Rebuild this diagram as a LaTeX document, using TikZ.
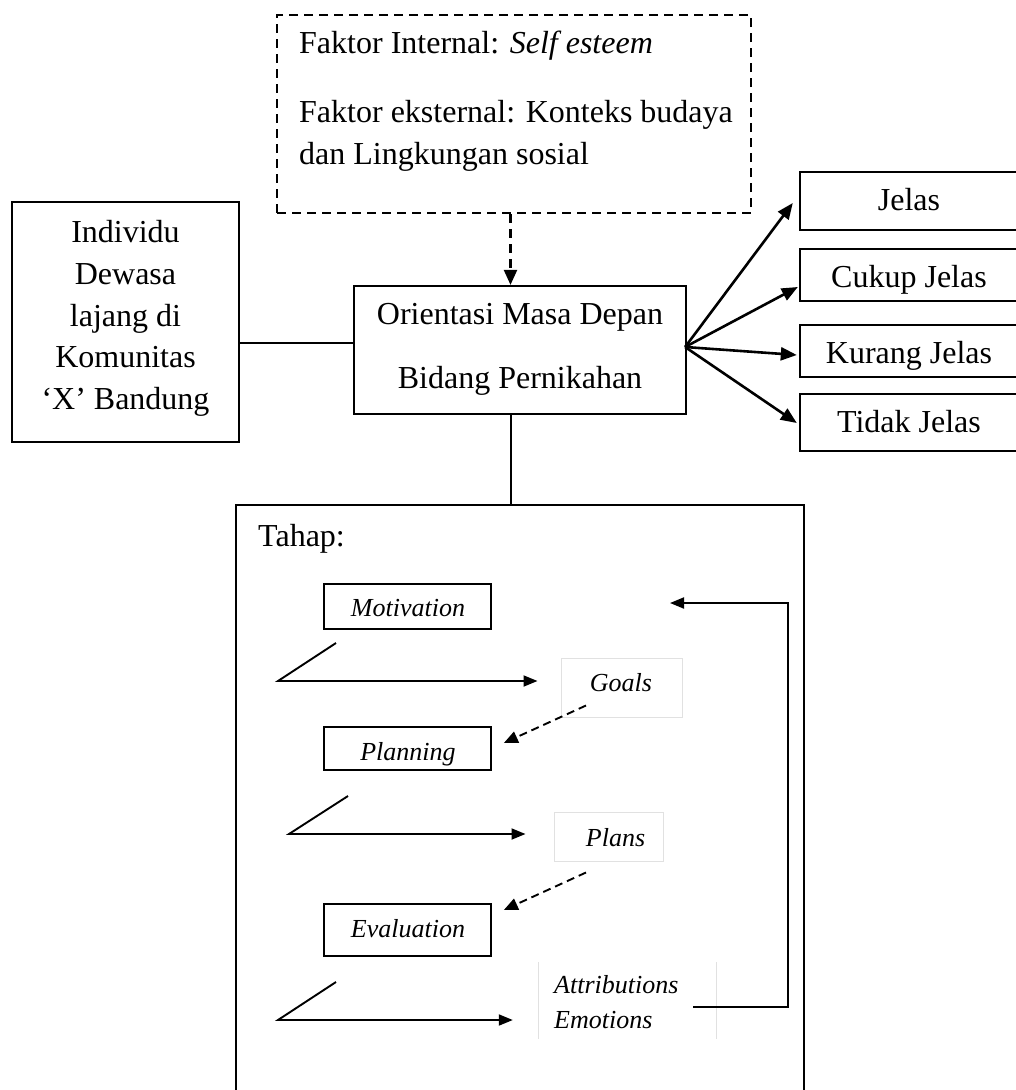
\documentclass[tikz,border=0pt]{standalone}
\usepackage{fontspec}
\setmainfont{Liberation Serif}
\usetikzlibrary{arrows.meta,calc}
\definecolor{ghostgray}{RGB}{225,225,225}
\begin{document}
\begin{tikzpicture}[x=1pt,y=-1pt,
  box/.style={draw, line width=2.2pt, inner sep=0pt},
  openbox/.style={inner sep=0pt},
  inbox/.style={draw, line width=1.7pt, inner sep=0pt},
  ghostbox/.style={draw=ghostgray, line width=1pt, inner sep=0pt},
  edge/.style={line width=2.2pt},
  bigtxt/.style={font=\fontsize{32}{42}\selectfont, inner sep=0pt, anchor=base},
  smtxt/.style={font=\fontsize{26}{35}\selectfont\itshape, inner sep=0pt, anchor=base},
  bigarrow/.style={line width=2.6pt, -{Triangle[length=16pt,width=13pt]}},
  dasharrow/.style={line width=2.2pt, dash pattern=on 9pt off 6pt, -{Triangle[length=15pt,width=13pt]}},
  smarrow/.style={line width=1.9pt, -{Triangle[length=14pt,width=11pt]}},
  smdash/.style={line width=1.9pt, dash pattern=on 8pt off 5pt, -{Triangle[length=14pt,width=12pt]}}
]
\useasboundingbox (0,0) rectangle (1016,1090);

% dashed factor box
\node[box, dash pattern=on 9pt off 6pt, minimum width=474pt, minimum height=198pt] (fak) at (514,114) {};
\node[bigtxt, anchor=base west] (fak1) at (299,53) {Faktor Internal: \textit{Self esteem}};
\node[bigtxt, anchor=base west] (fak2) at (299,122) {Faktor eksternal: Konteks budaya};
\node[bigtxt, anchor=base west] (fak3) at (299,164) {dan Lingkungan sosial};

% individu box
\node[box, minimum width=227pt, minimum height=240pt] (ind) at (125.5,322) {};
\node[bigtxt] (ind1) at (125.5,242) {Individu};
\node[bigtxt] (ind2) at (125.5,284) {Dewasa};
\node[bigtxt] (ind3) at (125.5,326) {lajang di};
\node[bigtxt] (ind4) at (125.5,367) {Komunitas};
\node[bigtxt] (ind5) at (125.5,409) {`X' Bandung};

% orientasi box
\node[box, minimum width=332pt, minimum height=128pt] (ori) at (520,350) {};
\node[bigtxt] (ori1) at (520,324) {Orientasi Masa Depan};
\node[bigtxt] (ori2) at (520,388) {Bidang Pernikahan};

% right boxes (open at right edge)
\node[openbox, minimum width=218pt, minimum height=58pt] (jel) at (909,201) {};
\node[openbox, minimum width=218pt, minimum height=52pt] (cuk) at (909,275) {};
\node[openbox, minimum width=218pt, minimum height=52pt] (kur) at (909,351) {};
\node[openbox, minimum width=218pt, minimum height=57pt] (tid) at (909,422.5) {};
\foreach \b in {jel,cuk,kur,tid}{
  \draw[edge] (\b.north east) -| (\b.south west) -- (\b.south east);
}
\node[bigtxt] (jelt) at (909,210) {Jelas};
\node[bigtxt] (cukt) at (909,287) {Cukup Jelas};
\begin{scope}
  \clip (kur.north west) rectangle (kur.south east);
  \node[bigtxt] (kurt) at (909,363) {Kurang Jelas};
\end{scope}
\node[bigtxt] (tidt) at (909,432) {Tidak Jelas};

% connectors top
\draw[edge] ([yshift=7pt]ori.west) -- ([yshift=7pt]ori.west -| ind.east);
\draw[dasharrow] ([xshift=-3.5pt]fak.south) -- ([xshift=-3.5pt]fak.south |- ori.north);
\coordinate (apex) at ($(ori.east)+(-2,-3)$);
\draw[bigarrow] (apex) -- ($(jel.west)+(-7,2)$);
\draw[bigarrow] (apex) -- ($(cuk.west)+(-2,12)$);
\draw[bigarrow] (apex) -- ($(kur.west)+(-3,4)$);
\draw[bigarrow] (apex) -- ($(tid.west)+(-3,0.5)$);

% tahap box (open at bottom edge)
\node[openbox, minimum width=568pt, minimum height=610pt] (tahap) at (520,810) {};
\draw[edge] (tahap.south west) |- (tahap.north east) -- (tahap.south east);
\draw[edge] ([xshift=-9pt]ori.south) -- ([xshift=-9pt]ori.south |- tahap.north);
\node[bigtxt, anchor=base west] (taht) at (258,546) {Tahap:};

% inner stage boxes
\node[inbox, minimum width=167pt, minimum height=45pt] (mot) at (407.5,606.5) {};
\node[smtxt] (mott) at (408,616) {Motivation};
\node[inbox, minimum width=167pt, minimum height=43pt] (plan) at (407.5,748.5) {};
\begin{scope}
  \clip (plan.north west) rectangle (plan.south east);
  \node[smtxt] (plant) at (408,760) {Planning};
\end{scope}
\node[inbox, minimum width=167pt, minimum height=52pt] (eval) at (407.5,930) {};
\node[smtxt] (evalt) at (408,937) {Evaluation};

\node[ghostbox, minimum width=121pt, minimum height=59pt] (goals) at (621.5,687.5) {};
\node[smtxt] (goalst) at (621,691) {Goals};
\node[ghostbox, minimum width=109pt, minimum height=49pt] (plans) at (608.5,836.5) {};
\node[smtxt] (planst) at (615.5,846) {Plans};
\node[openbox, minimum width=177pt, minimum height=77pt] (attr) at (627.5,1000.5) {};
\draw[draw=ghostgray, line width=1pt] (attr.north west) -- (attr.south west);
\draw[draw=ghostgray, line width=1pt] (attr.north east) -- (attr.south east);
\node[smtxt, anchor=base west] (attr1) at (554,993) {Attributions};
\node[smtxt, anchor=base west] (attr2) at (554,1028) {Emotions};

% slanted arrows
\coordinate (s1a) at (336,643);
\coordinate (s1b) at (278,681);
\draw[smarrow] (s1a) -- (s1b) -- ($(goals.west)+(-23,-6.5)$);
\coordinate (s2a) at (348,796);
\coordinate (s2b) at (289,834);
\draw[smarrow] (s2a) -- (s2b) -- ($(plans.west)+(-28,-2.5)$);
\coordinate (s3a) at (336,982);
\coordinate (s3b) at (278,1020);
\draw[smarrow] (s3a) -- (s3b) -- ($(attr.west)+(-26,19.5)$);

% dashed feedback arrows
\draw[smdash] ($(goals.south)+(-35.5,-12)$) -- ($(plan.east)+(12,-5.5)$);
\draw[smdash] ($(plans.south)+(-22.5,11)$) -- ($(eval.east)+(12,-20)$);

% feedback loop
\coordinate (fbs) at ($(attr.east)+(-23,6.5)$);
\coordinate (fbc) at (788,603);
\coordinate (fbt) at (670,603);
\draw[smarrow] (fbs) -| (fbc) -- (fbt);
\end{tikzpicture}
\end{document}
